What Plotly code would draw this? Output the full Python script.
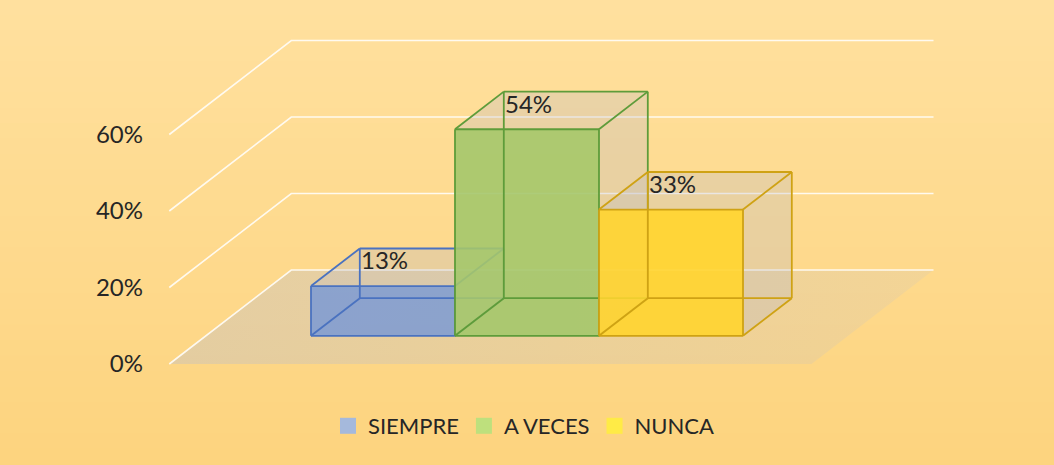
import plotly.graph_objects as go

# ---------------- data ----------------
series = ["SIEMPRE", "A VECES", "NUNCA"]
values = [0.13, 0.54, 0.33]
value_labels = ["13%", "54%", "33%"]
y_ticks = [0, 0.2, 0.4, 0.6]
y_tick_labels = ["0%", "20%", "40%", "60%"]

# ---------------- styles ----------------
front_fill = ["rgba(131,158,208,0.92)", "rgba(164,199,107,0.90)", "rgba(255,212,47,0.90)"]
edge_color = ["#4A72C0", "#5E9C3A", "#CFA214"]
legend_color = ["#A5B9DC", "#BEE07D", "#FFEB46"]
face_tint = "rgba(186,186,200,0.30)"
floor_tint = "rgba(186,189,205,0.32)"
font_family = "Lato, 'Open Sans', sans-serif"
text_color = "#262626"

W, H = 1054, 465
ML = 150
PX_PER_U = 144.0      # pixels per category unit
PX_PER_V = 382.5      # pixels per 100 %
X0_PX = 346.4         # pixel of category 0 centre on front plane
Y0_PX = 364.0         # pixel of 0 % on front plane
DX = 122.0 / PX_PER_U  # full-depth shift (x units)
DY = 94.0 / PX_PER_V   # full-depth shift (y units)
T0, T1 = 0.3, 0.7      # bar depth span
HALF = 0.5
FLOOR_L, FLOOR_R = -1.23, 3.23

x_range = [(ML - X0_PX) / PX_PER_U, (W - X0_PX) / PX_PER_U]
y_range = [-(H - Y0_PX) / PX_PER_V, Y0_PX / PX_PER_V]


def P(u, v, t):
    return (u + t * DX, v + t * DY)


def poly(points):
    xs = [p[0] for p in points] + [points[0][0]]
    ys = [p[1] for p in points] + [points[0][1]]
    return xs, ys


fig = go.Figure()

# background gradient bands (decoration)
top_c = (255, 224, 158)
bot_c = (253, 212, 127)
nb = 30
for k in range(nb):
    f = k / (nb - 1)
    c = tuple(round(top_c[j] + (bot_c[j] - top_c[j]) * f) for j in range(3))
    y1 = 1 - k / nb
    y0 = 1 - (k + 1) / nb
    fig.add_shape(type="rect", xref="paper", yref="paper",
                  x0=-ML / (W - ML), x1=1.0, y0=y0 - 0.002, y1=y1 + 0.002,
                  fillcolor="rgb(%d,%d,%d)" % c, line_width=0, layer="below")

# floor
fx, fy = poly([P(FLOOR_L, 0, 0), P(FLOOR_R, 0, 0), P(FLOOR_R, 0, 1), P(FLOOR_L, 0, 1)])
fig.add_trace(go.Scatter(x=fx, y=fy, mode="lines", fill="toself",
                         fillcolor=floor_tint,
                         fillgradient=dict(type="horizontal",
                                           colorscale=[[0, "rgba(186,189,205,0.38)"],
                                                       [1, "rgba(186,189,205,0.16)"]]),
                         line=dict(width=0),
                         hoverinfo="skip", showlegend=False))

# gridlines (side wall + back wall)
gx, gy = [], []
for v in y_ticks:
    for p in (P(FLOOR_L, v, 0), P(FLOOR_L, v, 1), P(FLOOR_R, v, 1)):
        gx.append(p[0]); gy.append(p[1])
    gx.append(None); gy.append(None)
fig.add_trace(go.Scatter(x=gx, y=gy, mode="lines",
                         line=dict(color="rgba(255,255,255,0.85)", width=1.6),
                         hoverinfo="skip", showlegend=False))

# bars
for i, (name, v) in enumerate(zip(series, values)):
    xl, xr = i - HALF, i + HALF
    # top face
    tx, ty = poly([P(xl, v, T0), P(xr, v, T0), P(xr, v, T1), P(xl, v, T1)])
    fig.add_trace(go.Scatter(x=tx, y=ty, mode="lines", fill="toself",
                             fillcolor=face_tint, line=dict(width=0),
                             hoverinfo="skip", showlegend=False))
    # right side face
    sx, sy = poly([P(xr, 0, T0), P(xr, 0, T1), P(xr, v, T1), P(xr, v, T0)])
    fig.add_trace(go.Scatter(x=sx, y=sy, mode="lines", fill="toself",
                             fillcolor=face_tint, line=dict(width=0),
                             hoverinfo="skip", showlegend=False))
    # front face
    qx, qy = poly([P(xl, 0, T0), P(xr, 0, T0), P(xr, v, T0), P(xl, v, T0)])
    fig.add_trace(go.Scatter(x=qx, y=qy, mode="lines", fill="toself",
                             fillcolor=front_fill[i], line=dict(width=0),
                             name=name, hoverinfo="x+y", showlegend=False))
    # wireframe (12 edges)
    corners = {}
    for a, uu in (("l", xl), ("r", xr)):
        for b, vv in (("b", 0), ("t", v)):
            for c, tt in (("f", T0), ("k", T1)):
                corners[a + b + c] = P(uu, vv, tt)
    edges = [("lbf", "rbf"), ("rbf", "rtf"), ("rtf", "ltf"), ("ltf", "lbf"),
             ("lbk", "rbk"), ("rbk", "rtk"), ("rtk", "ltk"), ("ltk", "lbk"),
             ("lbf", "lbk"), ("rbf", "rbk"), ("rtf", "rtk"), ("ltf", "ltk")]
    ex, ey = [], []
    for a, b in edges:
        ex += [corners[a][0], corners[b][0], None]
        ey += [corners[a][1], corners[b][1], None]
    fig.add_trace(go.Scatter(x=ex, y=ey, mode="lines",
                             line=dict(color=edge_color[i], width=1.8),
                             hoverinfo="skip", showlegend=False))
    # data label at back-top-left corner
    lx, ly = P(xl, v, T1)
    fig.add_annotation(x=lx, y=ly, text=value_labels[i], showarrow=False,
                       xanchor="left", yanchor="top", xshift=-1, yshift=5,
                       font=dict(family=font_family, size=24, color=text_color))

# legend entries
for i, name in enumerate(series):
    fig.add_trace(go.Scatter(x=[None], y=[None], mode="markers", name=name,
                             marker=dict(symbol="square", size=16, color=legend_color[i],
                                         line=dict(width=0))))

fig.update_layout(
    width=W, height=H,
    margin=dict(l=ML, r=0, t=0, b=0),
    paper_bgcolor="#FDD98B",
    plot_bgcolor="rgba(0,0,0,0)",
    font=dict(family=font_family, color=text_color),
    showlegend=True,
    legend=dict(orientation="h", x=(524 - ML) / (W - ML), xanchor="center",
                y=1 - 426 / H, yanchor="middle",
                font=dict(size=22, color=text_color),
                bgcolor="rgba(0,0,0,0)", itemwidth=30),
    xaxis=dict(range=x_range, visible=False, fixedrange=True),
    yaxis=dict(range=y_range, tickvals=y_ticks, ticktext=y_tick_labels,
               showgrid=False, zeroline=False, showline=False, ticks="",
               ticklabelstandoff=6,
               tickfont=dict(family=font_family, size=24, color=text_color),
               fixedrange=True),
)

fig.write_html("out.html")
